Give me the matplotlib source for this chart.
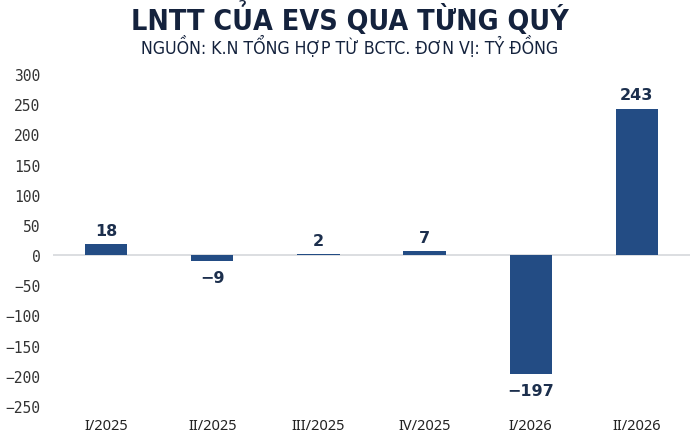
import matplotlib.pyplot as plt
from matplotlib import font_manager

quarters = ['I/2025', 'II/2025', 'III/2025', 'IV/2025', 'I/2026', 'II/2026']
profit = [18, -9, 2, 7, -197, 243]
yticks = [-250, -200, -150, -100, -50, 0, 50, 100, 150, 200, 250, 300]

# co ban condensed cua DejaVu Sans thi dung, khong thi thu nho chu
has_cond = any(f.name == 'DejaVu Sans' and f.stretch == 'condensed'
               for f in font_manager.fontManager.ttflist)
title_kw = dict(family='DejaVu Sans', stretch='condensed') if has_cond else dict(family='DejaVu Sans')
title_size = 20.5 if has_cond else 18
sub_size = 12.7 if has_cond else 11.5

bar_color = '#234c84'
text_color = '#1c2f4d'

fig = plt.figure(figsize=(7, 4.39), dpi=100)
ax = fig.add_axes([0.0757, 0.0729, 0.91, 0.756])

x = range(len(quarters))
ax.bar(x, profit, width=0.4, color=bar_color, zorder=3)
ax.axhline(0, color='#d5d8dc', linewidth=1.2, zorder=2)

for i, v in enumerate(profit):
    off = 10 if v >= 0 else -12
    ax.annotate(f'{v}'.replace('-', '\u2212'), (i, v), xytext=(0, off),
                textcoords='offset points', ha='center', va='center',
                fontsize=11.5, fontweight='bold', color=text_color)

ax.set_xlim(-0.5, 5.5)
ax.set_ylim(-250, 300)
ax.set_yticks(yticks)
ax.set_yticklabels([str(t).replace('-', '\u2212') for t in yticks],
                   family='DejaVu Sans Mono', fontsize=10.5, color='#333333')
ax.set_xticks(list(x))
ax.set_xticklabels(quarters, family='Noto Sans', fontsize=10.5, color='#222222')
ax.tick_params(length=0)
ax.tick_params(axis='x', pad=9)
ax.tick_params(axis='y', pad=9)
for s in ax.spines.values():
    s.set_visible(False)

fig.text(0.5, 0.956, 'LNTT CỦA EVS QUA TỪNG QUÝ', ha='center', va='center',
         fontsize=title_size, fontweight='bold', color='#14223d', **title_kw)
fig.text(0.5, 0.893, 'NGUỒN: K.N TỔNG HỢP TỪ BCTC. ĐƠN VỊ: TỶ ĐỒNG', ha='center',
         va='center', fontsize=sub_size, color='#14223d', **title_kw)

fig.savefig('out.png', dpi=100)
